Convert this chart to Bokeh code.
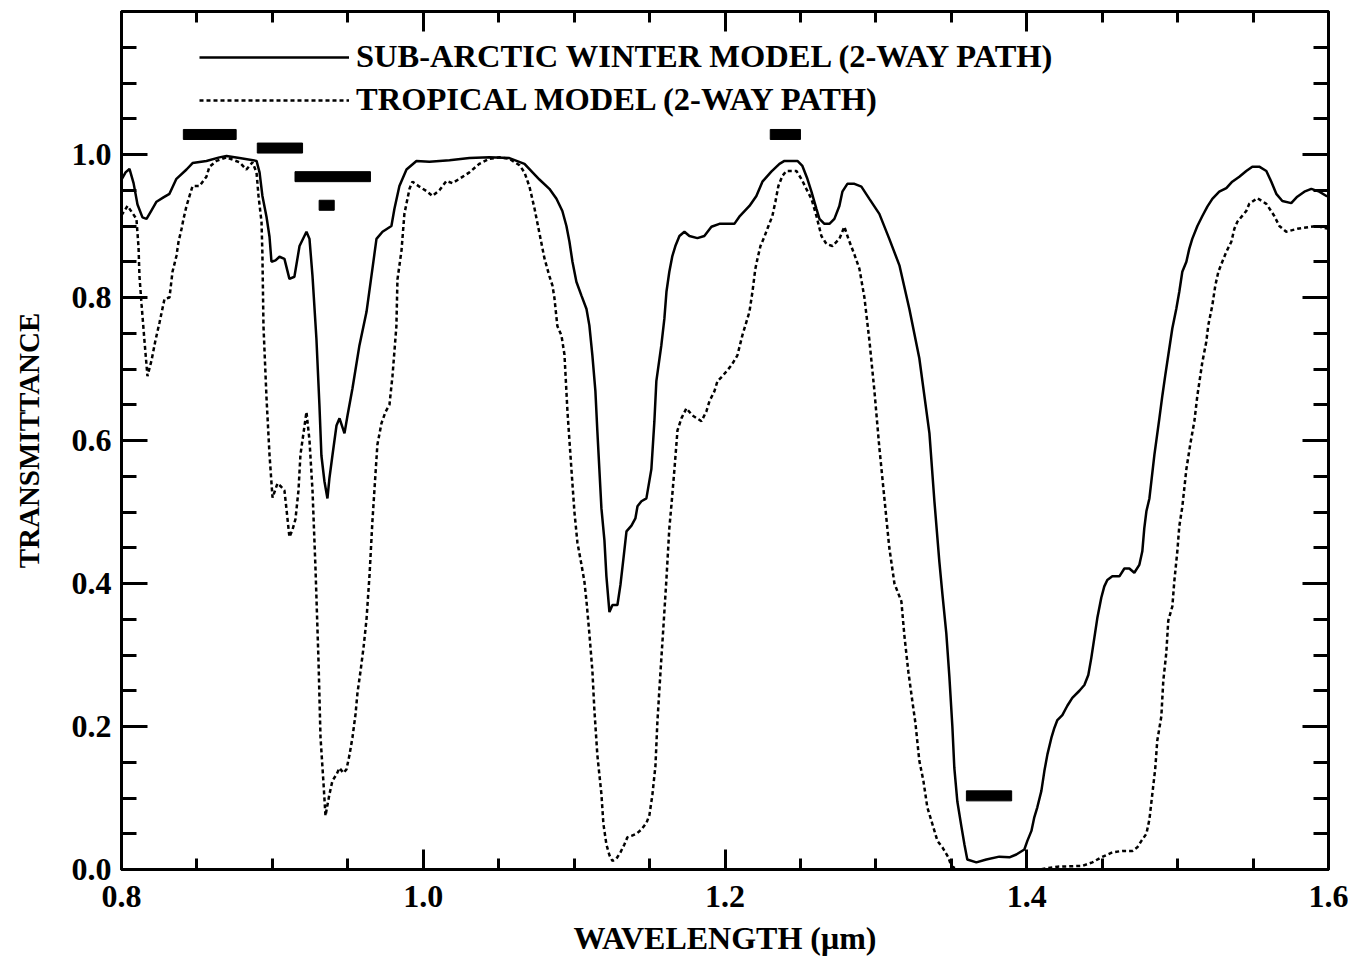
from bokeh.plotting import figure
from bokeh.models import (Range1d, LinearAxis, SingleIntervalTicker, PrintfTickFormatter,
                          Legend, LegendItem, CustomJSTickFormatter)
from bokeh.embed import file_html
from bokeh.resources import INLINE

# Sub-arctic winter model (2-way path)
wl_arctic = [0.8000, 0.8027, 0.8053, 0.8080, 0.8106, 0.8139, 0.8166, 0.8199, 0.8232, 0.8278,
             0.8318, 0.8364, 0.8431, 0.8471, 0.8563, 0.8649, 0.8696, 0.8782, 0.8895, 0.8915,
             0.8934, 0.8961, 0.8981, 0.8994, 0.9021, 0.9047, 0.9080, 0.9113, 0.9146, 0.9180,
             0.9226, 0.9246, 0.9266, 0.9292, 0.9312, 0.9325, 0.9345, 0.9365, 0.9378, 0.9398,
             0.9425, 0.9445, 0.9478, 0.9498, 0.9531, 0.9577, 0.9624, 0.9663, 0.9690, 0.9730,
             0.9789, 0.9809, 0.9842, 0.9889, 0.9955, 1.0041, 1.0174, 1.0306, 1.0439, 1.0571,
             1.0671, 1.0770, 1.0836, 1.0883, 1.0922, 1.0949, 1.0969, 1.0989, 1.1015, 1.1048,
             1.1082, 1.1101, 1.1121, 1.1141, 1.1154, 1.1181, 1.1201, 1.1214, 1.1234, 1.1254,
             1.1287, 1.1307, 1.1327, 1.1347, 1.1380, 1.1406, 1.1420, 1.1446, 1.1479, 1.1512,
             1.1532, 1.1545, 1.1578, 1.1598, 1.1612, 1.1631, 1.1651, 1.1671, 1.1698, 1.1731,
             1.1764, 1.1817, 1.1863, 1.1910, 1.1963, 1.2062, 1.2095, 1.2162, 1.2208, 1.2248,
             1.2307, 1.2361, 1.2394, 1.2480, 1.2513, 1.2546, 1.2573, 1.2606, 1.2626, 1.2659,
             1.2692, 1.2725, 1.2758, 1.2778, 1.2811, 1.2858, 1.2904, 1.2957, 1.3023, 1.3089,
             1.3156, 1.3222, 1.3288, 1.3355, 1.3388, 1.3421, 1.3441, 1.3467, 1.3487, 1.3507,
             1.3520, 1.3540, 1.3567, 1.3587, 1.3606, 1.3666, 1.3732, 1.3818, 1.3885, 1.3931,
             1.3984, 1.4004, 1.4031, 1.4050, 1.4070, 1.4097, 1.4117, 1.4137, 1.4163, 1.4183,
             1.4203, 1.4236, 1.4269, 1.4302, 1.4349, 1.4382, 1.4408, 1.4428, 1.4448, 1.4468,
             1.4494, 1.4514, 1.4534, 1.4567, 1.4614, 1.4647, 1.4680, 1.4713, 1.4746, 1.4766,
             1.4779, 1.4793, 1.4813, 1.4846, 1.4879, 1.4899, 1.4918, 1.4945, 1.4965, 1.4991,
             1.5011, 1.5031, 1.5058, 1.5077, 1.5097, 1.5131, 1.5164, 1.5197, 1.5230, 1.5276,
             1.5323, 1.5362, 1.5409, 1.5455, 1.5495, 1.5541, 1.5588, 1.5621, 1.5654, 1.5694,
             1.5753, 1.5793, 1.5840, 1.5886, 1.5939, 1.5986, 1.6000]
tr_arctic = [0.965, 0.975, 0.980, 0.960, 0.930, 0.912, 0.910, 0.922, 0.934, 0.940,
             0.945, 0.966, 0.979, 0.988, 0.991, 0.996, 0.998, 0.995, 0.991, 0.975,
             0.942, 0.913, 0.885, 0.850, 0.852, 0.857, 0.854, 0.826, 0.829, 0.872,
             0.892, 0.882, 0.830, 0.742, 0.649, 0.579, 0.543, 0.519, 0.547, 0.579,
             0.621, 0.631, 0.610, 0.635, 0.673, 0.733, 0.780, 0.840, 0.882, 0.892,
             0.900, 0.924, 0.956, 0.979, 0.991, 0.990, 0.992, 0.995, 0.996, 0.995,
             0.987, 0.965, 0.952, 0.938, 0.921, 0.900, 0.878, 0.850, 0.822, 0.803,
             0.784, 0.761, 0.719, 0.669, 0.613, 0.505, 0.460, 0.410, 0.360, 0.370,
             0.370, 0.398, 0.435, 0.473, 0.481, 0.491, 0.508, 0.515, 0.519, 0.560,
             0.627, 0.683, 0.733, 0.770, 0.808, 0.836, 0.858, 0.872, 0.886, 0.892,
             0.886, 0.883, 0.886, 0.899, 0.903, 0.903, 0.913, 0.928, 0.942, 0.962,
             0.976, 0.987, 0.991, 0.991, 0.984, 0.966, 0.948, 0.924, 0.910, 0.903,
             0.903, 0.910, 0.928, 0.948, 0.959, 0.959, 0.955, 0.938, 0.917, 0.882,
             0.845, 0.784, 0.715, 0.610, 0.515, 0.430, 0.385, 0.330, 0.270, 0.200,
             0.142, 0.095, 0.060, 0.035, 0.014, 0.010, 0.014, 0.018, 0.017, 0.021,
             0.028, 0.040, 0.054, 0.073, 0.087, 0.110, 0.138, 0.161, 0.184, 0.198,
             0.209, 0.216, 0.229, 0.240, 0.250, 0.258, 0.272, 0.296, 0.324, 0.352,
             0.380, 0.396, 0.405, 0.410, 0.410, 0.421, 0.421, 0.415, 0.426, 0.445,
             0.477, 0.501, 0.519, 0.580, 0.631, 0.663, 0.691, 0.729, 0.757, 0.784,
             0.808, 0.836, 0.850, 0.868, 0.882, 0.900, 0.914, 0.927, 0.938, 0.948,
             0.953, 0.962, 0.969, 0.977, 0.983, 0.983, 0.977, 0.962, 0.945, 0.935,
             0.932, 0.941, 0.948, 0.952, 0.948, 0.942, 0.942]

# Tropical model (2-way path)
wl_trop = [0.8000, 0.8040, 0.8073, 0.8099, 0.8113, 0.8119, 0.8133, 0.8152, 0.8172, 0.8199,
           0.8225, 0.8252, 0.8285, 0.8318, 0.8338, 0.8364, 0.8378, 0.8398, 0.8411, 0.8431,
           0.8451, 0.8471, 0.8517, 0.8563, 0.8583, 0.8630, 0.8696, 0.8782, 0.8828, 0.8868,
           0.8895, 0.8908, 0.8928, 0.8934, 0.8941, 0.8961, 0.8981, 0.9001, 0.9034, 0.9060,
           0.9080, 0.9093, 0.9113, 0.9133, 0.9153, 0.9173, 0.9186, 0.9206, 0.9226, 0.9246,
           0.9266, 0.9286, 0.9306, 0.9319, 0.9339, 0.9352, 0.9378, 0.9398, 0.9425, 0.9445,
           0.9471, 0.9491, 0.9511, 0.9531, 0.9551, 0.9564, 0.9584, 0.9604, 0.9624, 0.9644,
           0.9663, 0.9683, 0.9696, 0.9723, 0.9750, 0.9776, 0.9796, 0.9822, 0.9829, 0.9856,
           0.9875, 0.9909, 0.9928, 0.9975, 1.0021, 1.0061, 1.0107, 1.0154, 1.0193, 1.0240,
           1.0306, 1.0372, 1.0439, 1.0505, 1.0571, 1.0638, 1.0671, 1.0704, 1.0737, 1.0770,
           1.0803, 1.0836, 1.0856, 1.0869, 1.0889, 1.0916, 1.0936, 1.0956, 1.0982, 1.1002,
           1.1022, 1.1048, 1.1068, 1.1082, 1.1101, 1.1121, 1.1134, 1.1154, 1.1181, 1.1194,
           1.1214, 1.1234, 1.1254, 1.1280, 1.1307, 1.1333, 1.1353, 1.1380, 1.1413, 1.1446,
           1.1479, 1.1499, 1.1519, 1.1539, 1.1552, 1.1572, 1.1592, 1.1612, 1.1631, 1.1645,
           1.1665, 1.1685, 1.1711, 1.1744, 1.1784, 1.1844, 1.1877, 1.1897, 1.1930, 1.1950,
           1.1983, 1.2042, 1.2082, 1.2115, 1.2162, 1.2182, 1.2201, 1.2215, 1.2235, 1.2261,
           1.2288, 1.2314, 1.2334, 1.2354, 1.2380, 1.2407, 1.2473, 1.2506, 1.2539, 1.2573,
           1.2606, 1.2639, 1.2672, 1.2712, 1.2758, 1.2791, 1.2818, 1.2858, 1.2891, 1.2924,
           1.2957, 1.2990, 1.3023, 1.3056, 1.3089, 1.3123, 1.3169, 1.3189, 1.3215, 1.3242,
           1.3262, 1.3288, 1.3315, 1.3341, 1.3374, 1.3408, 1.3441, 1.3480, 1.3500, 1.3540,
           1.4083, 1.4203, 1.4368, 1.4435, 1.4494, 1.4567, 1.4634, 1.4700, 1.4733, 1.4760,
           1.4793, 1.4813, 1.4832, 1.4852, 1.4865, 1.4892, 1.4905, 1.4925, 1.4938, 1.4965,
           1.4978, 1.4998, 1.5011, 1.5031, 1.5058, 1.5084, 1.5111, 1.5131, 1.5164, 1.5190,
           1.5203, 1.5230, 1.5250, 1.5270, 1.5296, 1.5323, 1.5356, 1.5376, 1.5396, 1.5455,
           1.5475, 1.5528, 1.5588, 1.5641, 1.5674, 1.5720, 1.5793, 1.5919, 1.6000]
tr_trop = [0.915, 0.928, 0.918, 0.910, 0.870, 0.830, 0.790, 0.740, 0.690, 0.712,
           0.740, 0.765, 0.798, 0.800, 0.836, 0.858, 0.878, 0.896, 0.910, 0.928,
           0.942, 0.956, 0.956, 0.969, 0.983, 0.991, 0.996, 0.989, 0.979, 0.989,
           0.975, 0.942, 0.906, 0.860, 0.760, 0.660, 0.580, 0.520, 0.540, 0.535,
           0.530, 0.505, 0.465, 0.475, 0.490, 0.530, 0.580, 0.610, 0.640, 0.600,
           0.530, 0.420, 0.290, 0.185, 0.120, 0.075, 0.105, 0.124, 0.133, 0.142,
           0.135, 0.140, 0.160, 0.185, 0.217, 0.247, 0.277, 0.310, 0.350, 0.412,
           0.487, 0.552, 0.594, 0.624, 0.640, 0.650, 0.690, 0.760, 0.825, 0.866,
           0.917, 0.952, 0.962, 0.955, 0.949, 0.942, 0.950, 0.963, 0.960, 0.966,
           0.975, 0.987, 0.994, 0.996, 0.994, 0.985, 0.975, 0.955, 0.925, 0.890,
           0.855, 0.830, 0.817, 0.800, 0.760, 0.747, 0.720, 0.640, 0.560, 0.500,
           0.457, 0.427, 0.403, 0.375, 0.330, 0.278, 0.224, 0.160, 0.105, 0.064,
           0.035, 0.020, 0.012, 0.015, 0.024, 0.035, 0.045, 0.047, 0.050, 0.056,
           0.065, 0.076, 0.105, 0.145, 0.207, 0.275, 0.340, 0.407, 0.477, 0.510,
           0.560, 0.614, 0.631, 0.645, 0.635, 0.627, 0.641, 0.655, 0.669, 0.683,
           0.690, 0.705, 0.719, 0.747, 0.780, 0.808, 0.840, 0.854, 0.872, 0.885,
           0.900, 0.914, 0.934, 0.956, 0.970, 0.977, 0.977, 0.966, 0.952, 0.938,
           0.914, 0.886, 0.875, 0.872, 0.882, 0.899, 0.882, 0.860, 0.840, 0.800,
           0.740, 0.670, 0.590, 0.520, 0.450, 0.400, 0.375, 0.327, 0.277, 0.235,
           0.205, 0.152, 0.124, 0.087, 0.064, 0.040, 0.031, 0.017, 0.005, 0.000,
           0.000, 0.004, 0.005, 0.010, 0.017, 0.024, 0.026, 0.026, 0.031, 0.040,
           0.050, 0.070, 0.105, 0.142, 0.180, 0.214, 0.264, 0.303, 0.348, 0.368,
           0.403, 0.445, 0.480, 0.507, 0.560, 0.595, 0.627, 0.663, 0.710, 0.738,
           0.761, 0.789, 0.817, 0.836, 0.850, 0.864, 0.878, 0.896, 0.906, 0.921,
           0.931, 0.939, 0.931, 0.914, 0.900, 0.892, 0.896, 0.900, 0.896]

# Spectral bands (black bars)
band_lo = [0.841, 0.890, 0.915, 0.931, 1.230, 1.360]
band_hi = [0.876, 0.920, 0.965, 0.941, 1.250, 1.390]
band_y = [1.028, 1.009, 0.969, 0.929, 1.028, 0.103]

label_arctic = "SUB-ARCTIC WINTER MODEL (2-WAY PATH)"
label_trop = "TROPICAL MODEL (2-WAY PATH)"

FONT = "Liberation Serif"

p = figure(frame_width=1207, frame_height=858,
           x_range=Range1d(0.8, 1.6), y_range=Range1d(0.0, 1.2),
           output_backend="svg", toolbar_location=None,
           x_axis_type=None, y_axis_type=None,
           min_border_left=121, min_border_top=11, min_border_right=20, min_border_bottom=80)
p.grid.visible = False
p.outline_line_color = "black"
p.outline_line_width = 3
p.background_fill_color = "white"
p.border_fill_color = "white"


def make_axis(ax, major_in, minor_in, labels, size="32px"):
    ax.ticker = SingleIntervalTicker(interval=0.2, num_minor_ticks=4)
    ax.axis_line_color = "black"
    ax.axis_line_width = 3
    ax.major_tick_in = major_in
    ax.major_tick_out = 0
    ax.minor_tick_in = minor_in
    ax.minor_tick_out = 0
    ax.major_tick_line_width = 3
    ax.minor_tick_line_width = 3
    ax.major_tick_line_color = "black"
    ax.minor_tick_line_color = "black"
    if labels:
        ax.formatter = PrintfTickFormatter(format="%.1f")
        ax.major_label_text_font = FONT
        ax.major_label_text_font_style = "bold"
        ax.major_label_text_font_size = size
        ax.major_label_text_color = "black"
    else:
        ax.formatter = CustomJSTickFormatter(code="return ''")
        ax.major_label_text_font_size = "1px"
        ax.major_label_standoff = 0
    return ax


xb = make_axis(LinearAxis(), 20, 11, True)
xb.major_label_standoff = 16
xb.axis_label = "WAVELENGTH (\u03bcm)"
xb.axis_label_text_font = FONT
xb.axis_label_text_font_style = "bold"
xb.axis_label_text_font_size = "32px"
xb.axis_label_text_color = "black"
xb.axis_label_standoff = 10
p.add_layout(xb, "below")

yl = make_axis(LinearAxis(), 26, 15, True)
yl.major_label_standoff = 10
yl.axis_label = "TRANSMITTANCE"
yl.axis_label_text_font = FONT
yl.axis_label_text_font_style = "bold"
yl.axis_label_text_font_size = "29px"
yl.axis_label_text_color = "black"
yl.axis_label_standoff = 24
p.add_layout(yl, "left")

xt = make_axis(LinearAxis(), 20, 11, False)
p.add_layout(xt, "above")
yr = make_axis(LinearAxis(), 26, 15, False)
p.add_layout(yr, "right")

r1 = p.line(wl_arctic, tr_arctic, line_color="black", line_width=2.5)
r2 = p.line(wl_trop, tr_trop, line_color="black", line_width=2.5, line_dash="4 3")

p.hbar(y=band_y, left=band_lo, right=band_hi, height=0.014,
       fill_color="black", line_color="black")

legend = Legend(items=[LegendItem(label=label_arctic, renderers=[r1]),
                       LegendItem(label=label_trop, renderers=[r2])],
                location=(78, 751), glyph_width=150, glyph_height=30,
                label_standoff=7, spacing=6, padding=0, margin=0,
                border_line_alpha=0, background_fill_alpha=0,
                label_text_font=FONT, label_text_font_style="bold",
                label_text_font_size="32.5px", label_text_color="black")
p.add_layout(legend)

open("out.html", "w").write(file_html(p, INLINE))
